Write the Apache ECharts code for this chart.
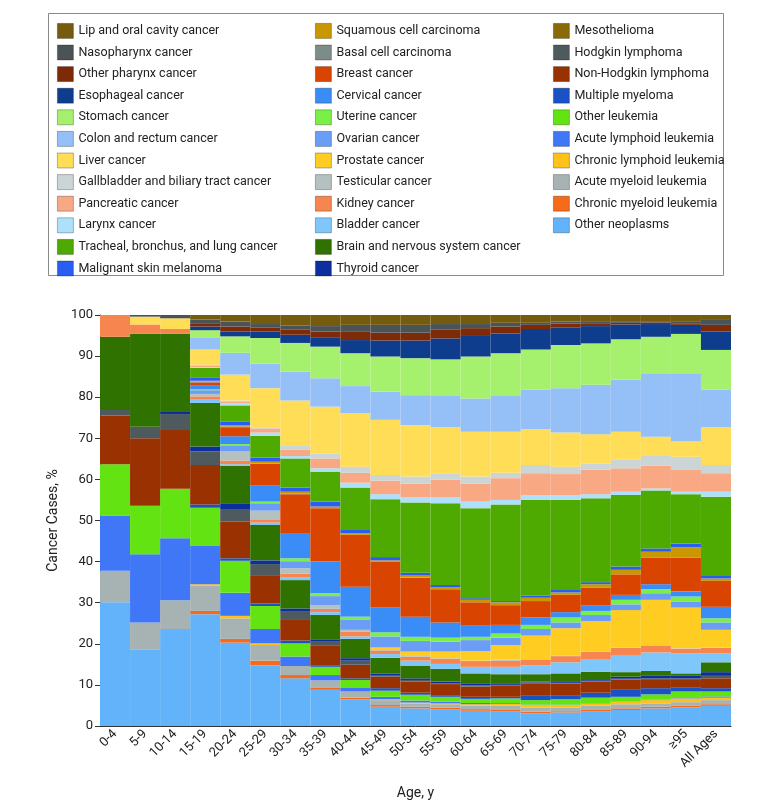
<!DOCTYPE html>
<html><head><meta charset="utf-8">
<script src="https://cdn.jsdelivr.net/npm/echarts@6/dist/echarts.min.js"></script>
<style>html,body{margin:0;padding:0;background:#fff}#c{width:780px;height:809px}</style>
</head><body><div id="c"></div><script>
const categories = ['0-4','5-9','10-14','15-19','20-24','25-29','30-34','35-39','40-44','45-49','50-54','55-59','60-64','65-69','70-74','75-79','80-84','85-89','90-94','≥95','All Ages'];
const yTicks = [0,10,20,30,40,50,60,70,80,90,100];

// values in % of cancer cases, one per age group (stacked bottom to top)
const otherNeoplasms = [30.1,18.7,23.6,27.2,20.3,14.8,11.6,8.8,6.5,4.7,4.3,4.1,3.7,3.5,3.1,3.3,3.5,3.9,4.3,4.5,4.9];
const chronicMyeloid = [0,0,0,0.8,0.9,1.1,0.8,0.6,0.4,0.4,0.4,0.4,0.4,0.4,0.4,0.3,0.4,0.4,0.4,0.4,0.4];
const acuteMyeloid = [7.7,6.5,7.0,6.1,5.0,3.8,2.2,1.7,1.5,1.2,0.8,0.8,0.9,1.0,1.0,0.9,1.0,1.0,0.8,0.9,1.0];
const chronicLymphoid = [0,0,0,0.4,0.6,0.4,0,0,0,0.2,0.2,0.2,0.3,0.5,0.6,0.6,0.6,0.6,0.8,0.9,0.6];
const acuteLymphoid = [13.4,16.6,15.1,9.3,5.6,3.5,2.3,1.3,1.0,0.6,0.5,0.4,0.3,0.2,0.1,0.1,0.1,0.1,0.1,0.1,0.3];
const otherLeukemia = [12.5,11.8,12.0,9.3,7.8,5.6,3.2,2.0,1.8,1.5,1.4,1.2,1.0,1.1,1.1,1.3,1.3,1.1,1.3,1.6,1.2];
const multipleMyeloma = [0,0,0,0.8,0.6,0.6,0.7,0.4,0.4,0.6,0.5,0.4,0.5,0.4,1.2,1.0,1.2,1.7,1.5,0.9,0.8];
const nonHodgkin = [11.8,16.4,14.3,9.6,8.9,6.9,5.0,4.7,3.3,2.8,2.7,2.7,2.5,2.7,2.9,2.8,2.7,2.5,2.2,2.1,2.4];
const hodgkin = [1.4,2.8,3.9,3.3,3.1,2.7,2.0,1.0,1.0,0.4,0.4,0.2,0.3,0.2,0.2,0.2,0.2,0.2,0.2,0.2,0.6];
const mesothelioma = [0,0,0,0,0,0,0,0,0,0,0,0,0,0,0,0,0,0,0,0,0];
const thyroid = [0,0,0.5,1.2,1.4,0.9,0.8,0.6,0.6,0.4,0.4,0.4,0.5,0.4,0.2,0.4,0.4,0.5,0.6,0.6,0.9];
const brain = [17.8,22.6,19.0,10.6,9.1,8.6,6.9,5.9,4.7,3.8,3.1,3.1,2.4,2.2,1.8,1.9,1.8,1.1,1.2,0.6,2.4];
const bladder = [0,0,0,0.8,0.4,0.6,0.6,0.7,0.6,0.9,1.2,1.2,1.6,1.8,2.2,2.7,3.1,4.0,4.5,4.9,2.2];
const kidney = [5.3,2.3,1.2,0.8,0.9,0.8,1.0,0.8,1.1,0.9,0.9,1.3,1.4,1.5,1.3,1.5,1.7,1.9,1.7,1.1,1.3];
const testicular = [0,0,0,0.6,2.2,2.1,1.3,0.9,0.5,0.1,0.2,0.1,0.1,0.2,0.2,0.1,0.1,0.1,0.1,0.1,0.1];
const prostate = [0,0,0,0,0,0,0,0,0,0.6,1.1,1.6,2.3,3.6,5.7,6.7,7.4,9.1,11.0,9.9,4.3];
const ovarian = [0,0,0,0.9,1.5,1.8,1.7,2.2,2.4,2.7,2.6,2.4,2.7,1.8,1.6,1.4,1.5,1.4,1.6,1.5,1.8];
const uterine = [0,0,0,0.2,0.3,0.4,0.7,0.7,0.8,1.0,1.0,1.0,0.8,1.0,1.0,1.2,1.0,1.1,1.0,1.2,1.0];
const cervical = [0,0,0,0.9,1.9,4.0,6.0,7.7,7.3,6.1,4.9,3.7,2.7,2.1,1.8,1.3,1.4,1.2,1.2,1.2,2.8];
const breast = [0,0,0,0.8,2.2,5.2,9.6,13.0,12.6,11.1,9.5,8.1,5.7,4.8,4.0,4.2,4.3,5.0,6.5,8.3,6.3];
const basalCell = [0,0,0,0.2,0.2,0.1,0.1,0,0,0,0,0,0,0,0,0,0,0,0,0,0];
const squamousCell = [0,0,0,0.2,0.3,0.4,0.5,0.4,0.4,0.3,0.5,0.4,0.6,0.7,0.8,0.6,0.8,1.1,1.4,2.5,0.6];
const melanoma = [0,0,0,0.7,0.8,1.0,1.0,1.2,0.8,0.8,0.7,0.6,0.4,0.3,0.5,0.6,0.5,0.8,0.8,0.9,0.6];
const lung = [0,0,0,2.4,4.0,5.3,7.1,7.3,10.3,14.1,17.1,19.9,21.9,23.5,23.3,21.9,20.4,17.4,14.1,12.0,19.3];
const larynx = [0,0,0,0.2,0.5,0.8,0.6,0.8,1.2,1.2,1.2,1.4,1.6,1.1,1.2,1.2,1.0,0.8,0.5,0.6,1.2];
const pancreatic = [0,0,0,0.3,0.5,1.0,1.5,2.4,2.4,3.3,3.4,4.3,4.4,5.3,5.3,5.1,6.0,5.7,5.5,5.3,4.5];
const gallbladder = [0,0,0,0.3,0.2,0.3,0.9,1.2,1.5,1.4,1.7,1.6,1.7,1.3,2.0,1.8,1.5,2.2,2.6,3.2,2.0];
const liver = [0,1.9,2.6,3.7,6.3,9.5,11.1,11.4,13.0,13.4,12.5,11.2,10.9,10.0,8.7,8.3,7.1,6.7,4.5,3.7,9.2];
const colon = [0,0,0,2.8,5.3,6.0,7.0,6.9,6.6,6.8,7.3,7.6,8.1,8.9,9.6,10.8,12.0,12.7,15.4,16.6,9.2];
const stomach = [0,0,0,1.9,4.0,6.2,7.0,7.7,8.0,8.6,9.0,8.9,10.2,10.2,9.8,10.5,10.1,9.8,8.9,9.6,9.6];
const esophageal = [0,0,0,0.9,1.2,1.6,2.0,2.3,3.2,3.9,4.3,5.1,5.0,4.8,5.0,4.3,4.2,3.6,3.1,2.2,4.5];
const otherPharynx = [0,0,0,0.8,1.2,0.9,1.2,1.4,2.0,1.9,1.9,2.1,1.9,1.7,1.0,0.9,0.7,0.4,0.4,0.4,1.6];
const nasopharynx = [0,0.4,0.8,0.9,1.2,0.9,1.0,1.3,1.7,1.9,1.9,1.4,1.0,0.9,0.5,0.5,0.5,0.4,0.3,0.5,1.4];
const lipOral = [0,0,0,1.1,1.6,2.2,2.6,2.7,2.4,2.4,2.4,2.2,2.2,1.9,1.9,1.6,1.5,1.5,1.5,1.5,1.0];

// legend columns (top to bottom as in the figure)
const legendCol1 = ['Lip and oral cavity cancer','Nasopharynx cancer','Other pharynx cancer','Esophageal cancer','Stomach cancer','Colon and rectum cancer','Liver cancer','Gallbladder and biliary tract cancer','Pancreatic cancer','Larynx cancer','Tracheal, bronchus, and lung cancer','Malignant skin melanoma'];
const legendCol2 = ['Squamous cell carcinoma','Basal cell carcinoma','Breast cancer','Cervical cancer','Uterine cancer','Ovarian cancer','Prostate cancer','Testicular cancer','Kidney cancer','Bladder cancer','Brain and nervous system cancer','Thyroid cancer'];
const legendCol3 = ['Mesothelioma','Hodgkin lymphoma','Non-Hodgkin lymphoma','Multiple myeloma','Other leukemia','Acute lymphoid leukemia','Chronic lymphoid leukemia','Acute myeloid leukemia','Chronic myeloid leukemia','Other neoplasms'];

// stack order: bottom -> top
const stackDef = [
  ['Other neoplasms', otherNeoplasms, '#63b3fa'],
  ['Chronic myeloid leukemia', chronicMyeloid, '#f66a1c'],
  ['Acute myeloid leukemia', acuteMyeloid, '#a7b3b3'],
  ['Chronic lymphoid leukemia', chronicLymphoid, '#ffc21a'],
  ['Acute lymphoid leukemia', acuteLymphoid, '#3f77f7'],
  ['Other leukemia', otherLeukemia, '#64e312'],
  ['Multiple myeloma', multipleMyeloma, '#1a52c6'],
  ['Non-Hodgkin lymphoma', nonHodgkin, '#993100'],
  ['Hodgkin lymphoma', hodgkin, '#4f5a5e'],
  ['Mesothelioma', mesothelioma, '#8a6a06'],
  ['Thyroid cancer', thyroid, '#0d2f9e'],
  ['Brain and nervous system cancer', brain, '#2f7200'],
  ['Bladder cancer', bladder, '#7fc7fb'],
  ['Kidney cancer', kidney, '#f6854f'],
  ['Testicular cancer', testicular, '#b5c1c1'],
  ['Prostate cancer', prostate, '#ffcd22'],
  ['Ovarian cancer', ovarian, '#6b9cf6'],
  ['Uterine cancer', uterine, '#7bef48'],
  ['Cervical cancer', cervical, '#3a8df6'],
  ['Breast cancer', breast, '#d94400'],
  ['Basal cell carcinoma', basalCell, '#7e8b8b'],
  ['Squamous cell carcinoma', squamousCell, '#c99700'],
  ['Malignant skin melanoma', melanoma, '#2a5ef2'],
  ['Tracheal, bronchus, and lung cancer', lung, '#4eaa00'],
  ['Larynx cancer', larynx, '#aee0fb'],
  ['Pancreatic cancer', pancreatic, '#f9a884'],
  ['Gallbladder and biliary tract cancer', gallbladder, '#cbd5d5'],
  ['Liver cancer', liver, '#ffdd57'],
  ['Colon and rectum cancer', colon, '#95bff7'],
  ['Stomach cancer', stomach, '#a5f06c'],
  ['Esophageal cancer', esophageal, '#0f3d8d'],
  ['Other pharynx cancer', otherPharynx, '#7c2a08'],
  ['Nasopharynx cancer', nasopharynx, '#4a5457'],
  ['Lip and oral cavity cancer', lipOral, '#745b0e']
];

const FONT = 'Roboto, "Noto Sans", sans-serif';
const chart = echarts.init(document.getElementById('c'), null, {renderer: 'canvas'});

function legendAt(left, data) {
  return {
    data: data, orient: 'vertical', left: left, top: 23, padding: 0,
    itemWidth: 16, itemHeight: 15, itemGap: 5.8, selectedMode: false,
    icon: 'rect',
    itemStyle: {borderColor: 'rgba(0,0,0,0.35)', borderWidth: 0.8},
    textStyle: {fontFamily: FONT, fontSize: 12.5, color: '#222', lineHeight: 15, height: 15}
  };
}

chart.setOption({
  animation: false,
  backgroundColor: '#fff',
  graphic: [{type: 'rect', shape: {x: 48.5, y: 13.5, width: 675, height: 262}, style: {fill: 'none', stroke: '#8a8a8a', lineWidth: 1}, silent: true}],
  legend: [legendAt(57, legendCol1), legendAt(315, legendCol2), legendAt(553, legendCol3)],
  grid: {left: 100, right: 49, top: 315, bottom: 83, containLabel: false},
  xAxis: {
    type: 'category', data: categories,
    name: 'Age, y', nameLocation: 'middle', nameGap: 60,
    nameTextStyle: {fontFamily: FONT, fontSize: 14, color: '#222'},
    axisLine: {lineStyle: {color: '#333', width: 1}},
    axisTick: {alignWithLabel: true, length: 4, lineStyle: {color: '#333'}},
    axisLabel: {rotate: 45, interval: 0, fontFamily: FONT, fontSize: 13, color: '#222', margin: 6}
  },
  yAxis: {
    type: 'value', min: yTicks[0], max: yTicks[yTicks.length-1], interval: 10,
    name: 'Cancer Cases, %', nameLocation: 'middle', nameGap: 32,
    nameTextStyle: {fontFamily: FONT, fontSize: 14, color: '#222'},
    axisLine: {show: true, lineStyle: {color: '#333', width: 1}},
    axisTick: {show: true, length: 5, lineStyle: {color: '#333'}},
    splitLine: {show: false},
    axisLabel: {fontFamily: FONT, fontSize: 13, color: '#222', margin: 7}
  },
  series: stackDef.map(([name, vals, color]) => ({
    name: name, type: 'bar', stack: 'total', data: vals,
    barCategoryGap: '0%', barGap: '0%',
    itemStyle: {color: color, borderWidth: 0},
    emphasis: {disabled: true}
  }))
});
</script></body></html>
